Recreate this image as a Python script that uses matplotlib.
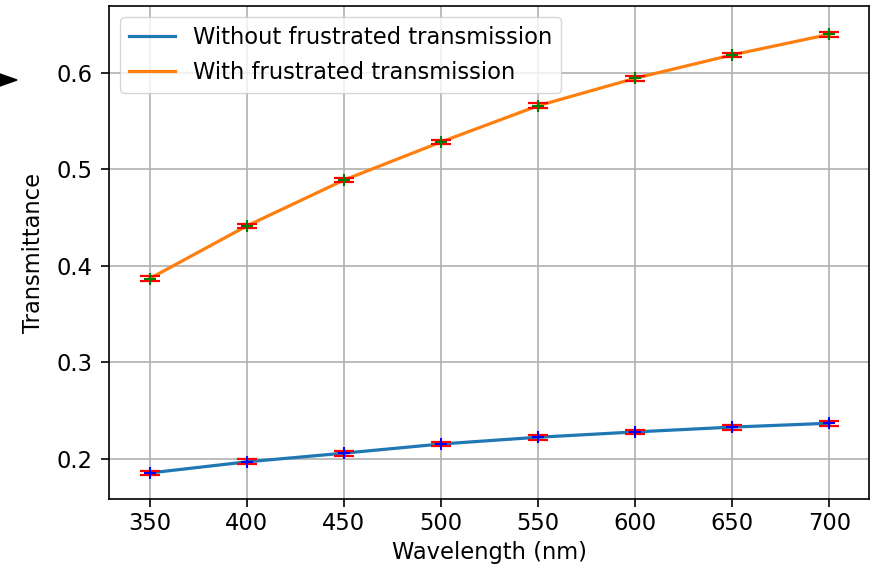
import matplotlib
matplotlib.use("Agg")
import matplotlib.pyplot as plt
from matplotlib.patches import Polygon

wavelength = [350, 400, 450, 500, 550, 600, 650, 700]
without_ft = [0.1855, 0.197, 0.206, 0.2155, 0.2225, 0.228, 0.233, 0.237]
with_ft = [0.387, 0.4415, 0.489, 0.5285, 0.566, 0.5945, 0.6187, 0.640]
err = 0.0025

fs = 16.3
plt.rcParams['font.family'] = ['DejaVu Sans']
fig = plt.figure(figsize=(8.71, 5.70), dpi=100)
ax = fig.add_axes([109/871, 1-499/570, (869-109)/871, (499-6)/570])

ax.plot(wavelength, without_ft, color='#1f77b4', lw=2.3, label='Without frustrated transmission', zorder=2)
ax.plot(wavelength, with_ft, color='#ff7f0e', lw=2.3, label='With frustrated transmission', zorder=2)
ax.errorbar(wavelength, without_ft, yerr=err, fmt='none', ecolor='red', capsize=7, elinewidth=1.3, capthick=1.6, zorder=3)
ax.errorbar(wavelength, with_ft, yerr=err, fmt='none', ecolor='red', capsize=7, elinewidth=1.3, capthick=1.6, zorder=3)
ax.plot(wavelength, without_ft, ls='none', marker='+', color='blue', ms=9, mew=1.5, zorder=4)
ax.plot(wavelength, with_ft, ls='none', marker='+', color='green', ms=9, mew=1.5, zorder=4)

ax.set_xlim(329, 720.5)
ax.set_ylim(0.1585, 0.6694)
ax.set_xticks(wavelength)
ax.set_yticks([0.2, 0.3, 0.4, 0.5, 0.6])
ax.grid(True, color='#b0b0b0', lw=1.2)
ax.set_axisbelow(True)
ax.tick_params(labelsize=fs, length=6, width=1.2)
ax.tick_params(axis='y', pad=6)
for s in ax.spines.values():
    s.set_linewidth(1.2)
ax.set_xlabel('Wavelength (nm)', fontsize=fs)
ax.set_ylabel('Transmittance', fontsize=fs, labelpad=8)
ax.legend(loc='upper left', fontsize=fs)

tri = Polygon([(0/871, 1-74/570), (17/871, 1-80/570), (0/871, 1-86/570)],
              closed=True, transform=fig.transFigure, color='black')
fig.add_artist(tri)

fig.savefig('out.png', dpi=100)
